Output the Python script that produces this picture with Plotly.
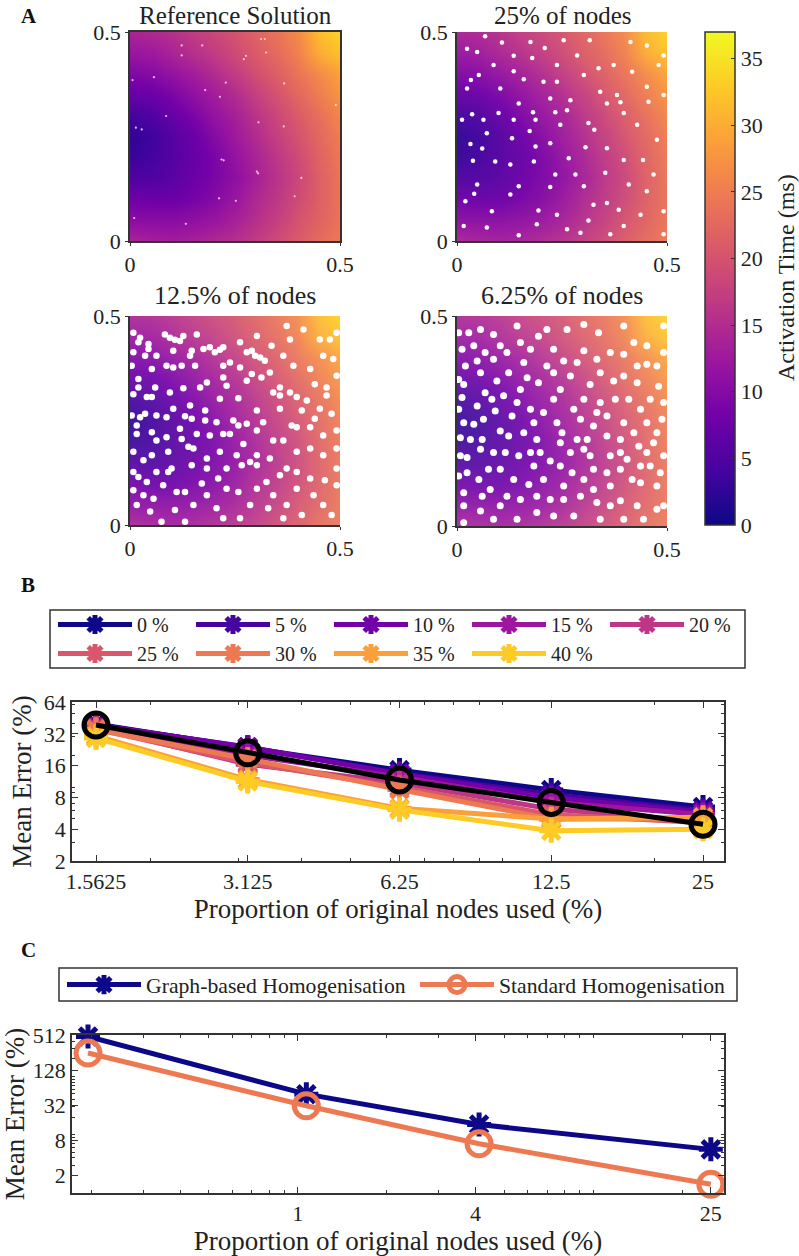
import math
import plotly.graph_objects as go

W, H = 799, 1256
SERIF = "Liberation Serif"
INK = "#222222"
EDGE = "#333333"

# ---- Panel A: activation time (ms) on a coarse grid
grid_x = [0, 0.05, 0.1, 0.15, 0.2, 0.25, 0.3, 0.35, 0.4, 0.45, 0.5]
grid_y = [0, 0.05, 0.1, 0.15, 0.2, 0.25, 0.3, 0.35, 0.4, 0.45, 0.5]
activation = [
    [14, 13.5, 13, 13.5, 14.5, 15.5, 17, 19, 21, 23, 24.5],
    [10.5, 10.5, 10.5, 11, 12, 13.5, 15.5, 17.5, 20, 22, 24],
    [8, 7.5, 7.5, 8.5, 10, 12, 14.5, 16.5, 19, 21.5, 24],
    [5, 5, 6, 7.5, 9, 11, 13.5, 16, 18.5, 21.5, 24],
    [3, 4, 5.5, 7, 9, 11.5, 14, 16.5, 19, 22, 24.5],
    [2.5, 3.5, 5.5, 7.5, 10, 12.5, 15, 17.5, 20, 22.5, 25],
    [4, 5, 7, 9, 11.5, 13.5, 16, 18.5, 21, 23.5, 26],
    [7, 7.5, 9, 11, 13, 15, 17.5, 20, 22.5, 25, 27.5],
    [9.5, 10, 11.5, 13, 15, 17, 19.5, 21.5, 24, 26.5, 29],
    [12, 12.5, 14, 15.5, 17, 19, 21, 23, 25.5, 30, 32],
    [14, 14.5, 15.5, 17, 18.5, 20, 22, 24, 26.5, 31.5, 33.5],
]
panel_titles = ["Reference Solution", "25% of nodes", "12.5% of nodes", "6.25% of nodes"]

# Missing-node specks: approximate positions of visible gaps, estimated by eye from zoomed crops.
# The thousands of individual nodes of the sampled panels cannot be read; these panels are an approximation.
ref_gap_x = [.123,.172,.123,.312,.321,.324,.276,.271,.006,.057,.228,.179,.214,.367,.49,.086,.014,.028,.306,.366,.218,.223,.302,.305,.408,.392,.212,.252,.01,.133]
ref_gap_y = [.468,.468,.444,.483,.483,.451,.443,.435,.385,.392,.379,.361,.345,.377,.325,.299,.271,.267,.284,.274,.195,.193,.166,.162,.151,.107,.102,.096,.055,.041]
p25_gap_x = [.107,.135,.159,.033,.052,.036,.187,.173,.306,.327,.389,.443,.397,.282,.127,.038,.147,.041,.313,.385,.147,.181,.187,.238,.316,.209,.135,.067,.413,.456,.357,.262,.234,.071,.063,.131,.032,.012,.091,.06,.266,.222,.048,.02,.194,.238,.262,.357,.409,.437,.397,.365,.325,.492,.48,.452,.381,.341,.302,.337,.238,.179,.087,.024,.103,.147,.222,.27,.135,.099,.313,.397,.429,.476,.357,.222,.234,.183,.127,.083,.016,.071,.19,.302,.353,.468,.452,.492,.492,.294,.246,.206,.286,.373,.417,.452,.492,.175,.254,.024,.048]
p25_gap_y = [.475,.406,.387,.385,.397,.303,.226,.263,.224,.266,.332,.194,.194,.159,.183,.192,.131,.113,.049,.075,.014,.308,.29,.381,.48,.462,.443,.49,.476,.333,.329,.313,.308,.258,.29,.246,.232,.29,.19,.221,.198,.129,.135,.095,.073,.063,.028,.091,.135,.063,.036,.016,.087,.349,.421,.369,.349,.357,.397,.413,.421,.438,.421,.365,.365,.329,.341,.337,.29,.306,.282,.306,.278,.242,.222,.234,.159,.19,.111,.071,.036,.032,.04,.131,.163,.159,.119,.071,.016,.02,.278,.381,.444,.421,.405,.468,.444,.476,.48,.46,.452]
p12_gap_x = [.107,.02,.044,.214,.31,.373,.484,.127,.083,.159,.02,.06,.127,.04,.087,.036,.016,.063,.119,.131,.179,.258,.246,.238,.302,.357,.313,.421,.385,.44,.341,.27,.183,.032,.063,.091,.04,.079,.111,.107,.266,.373,.464,.409,.329,.48,.258,.171,.21,.151,.206,.008,.056,.016,.075,.143,.175,.238,.278,.183,.23,.143,.214,.103,.052,.365,.429,.468,.492,.413,.302,.262,.19,.151,.302,.357,.325,.429,.46,.397,.286,.183,.222,.492,
             .008,.024,.095,.119,.044,.103,.147,.19,.202,.222,.29,.298,.321,.337,.381,.452,.476,.008,.036,.063,.087,.123,.155,.222,.262,.29,.333,.389,.46,.004,.02,.008,.052,.095,.167,.222,.278,.341,.357,.381,.397,.44,.468,.492,.004,.024,.063,.103,.147,.179,.206,.278,.317,.357,.409,.452,.48,.492,.016,.052,.087,.123,.159,.222,.258,.302,.365,.397,.429,.008,.052,.091,.139,.214,.254,.302,.333,.397,.46,.492,.02,.099,.147,.183,.23,.286,.397,.429,.492,.008,.032,.131,.23,.302,.341,.373,.437,.46,.262,.131,.048,.365]
p12_gap_y = [.443,.437,.421,.419,.401,.476,.397,.452,.456,.456,.349,.329,.327,.306,.258,.266,.218,.202,.23,.26,.274,.303,.25,.218,.274,.329,.353,.298,.238,.254,.202,.194,.159,.155,.127,.127,.103,.095,.079,.036,.143,.135,.107,.024,.04,.024,.079,.099,.111,.048,.04,.127,.063,.048,.008,.405,.421,.389,.413,.341,.333,.286,.302,.377,.373,.405,.373,.31,.46,.468,.452,.437,.214,.183,.167,.119,.103,.183,.214,.087,.048,.071,.016,.135,
             .46,.448,.448,.44,.433,.417,.417,.425,.413,.425,.417,.405,.393,.429,.444,.444,.444,.413,.405,.405,.381,.381,.381,.381,.377,.361,.365,.381,.405,.381,.329,.313,.306,.317,.329,.353,.345,.317,.31,.317,.306,.337,.329,.357,.262,.258,.262,.278,.254,.25,.246,.242,.246,.278,.274,.278,.266,.226,.238,.222,.21,.206,.218,.218,.238,.226,.202,.234,.234,.175,.167,.175,.187,.175,.167,.143,.159,.175,.167,.183,.115,.135,.143,.135,.135,.151,.127,.111,.095,.083,.071,.079,.087,.087,.071,.048,.071,.048,.016,.008,.032,.016]
p6_gap_x = [.016,.032,.012,.04,.056,.067,.123,.087,.028,.067,.143,.23,.302,.302,.254,.194,.317,.357,.409,.46,.452,.488,.373,.286,.222,.159,.091,.103,.024,.075,.147,.119,.056,.016,.171,.222,.274,.317,.357,.417,.46,.433,.389,.333,.389,.476,.19,.278,.444,.175,.151,.246,.278,.206,.111,.02,.004,.325,.476,.421,.365,.214,.119,.087,.175,.246,.365,.405,.294,.079,.016,.492,
            .012,.056,.103,.151,.194,.262,.337,.397,.452,.492,.004,.04,.087,.159,.214,.286,.333,.397,.429,.492,.048,.095,.167,.23,.27,.341,.397,.429,.48,.016,.083,.143,.175,.23,.302,.341,.377,.437,.492,.048,.004,.063,.131,.183,.238,.294,.333,.397,.452,.476,.008,.06,.123,.19,.25,.31,.357,.421,.468,.008,.056,.115,.198,.27,.302,.389,.452,.492,.024,.103,.183,.246,.325,.389,.437,.484,.004,.052,.135,.206,.254,.302,.365,.437,.016,.06,.103,.151,.19,.254,.325,.365,.429,.476,.087,.143,.23,.341,.397]
p6_gap_y = [.246,.206,.306,.242,.365,.317,.365,.456,.46,.413,.476,.421,.48,.417,.393,.341,.337,.262,.302,.302,.385,.254,.345,.206,.155,.222,.274,.226,.127,.135,.167,.071,.036,.008,.099,.063,.127,.167,.127,.111,.143,.19,.206,.056,.06,.095,.032,.024,.016,.421,.325,.325,.278,.27,.31,.381,.349,.238,.381,.437,.413,.468,.413,.175,.175,.198,.167,.159,.071,.087,.079,.048,
            .421,.468,.429,.437,.452,.468,.46,.476,.429,.476,.46,.429,.397,.389,.381,.389,.397,.409,.381,.413,.393,.345,.353,.365,.357,.365,.357,.341,.333,.337,.302,.294,.278,.302,.302,.294,.302,.278,.294,.286,.278,.254,.262,.246,.246,.254,.27,.246,.246,.222,.21,.206,.214,.206,.222,.206,.214,.222,.198,.167,.183,.175,.175,.175,.183,.175,.175,.167,.163,.135,.143,.143,.135,.135,.143,.127,.119,.111,.111,.111,.095,.111,.095,.103,.048,.071,.048,.063,.071,.063,.087,.048,.048,.04,.016,.016,.024,.016,.016]

colorbar_ticks = [0, 5, 10, 15, 20, 25, 30, 35]

# ---- Panel B
b_x = [1.5625, 3.125, 6.25, 12.5, 25]
b_names = ["0 %", "5 %", "10 %", "15 %", "20 %", "25 %", "30 %", "35 %", "40 %"]
b_colors = ["#0d0887", "#46039f", "#7201a8", "#9c179e", "#bd3786", "#d8576b", "#ed7953", "#fb9f3a", "#fdca26"]
b_series = [
    [39.6, 23.5, 14.5, 9.4, 6.5],
    [39.0, 23.8, 13.5, 8.5, 6.0],
    [38.5, 24.0, 13.3, 8.0, 5.8],
    [37.5, 20.0, 12.5, 7.2, 5.5],
    [36.5, 16.5, 11.0, 6.2, 4.7],
    [35.5, 17.0, 10.0, 5.5, 4.6],
    [35.0, 18.5, 9.5, 5.0, 5.0],
    [30.5, 11.8, 6.3, 5.0, 5.2],
    [29.2, 11.3, 6.1, 3.87, 4.0],
]
b_mean = [38.8, 21.2, 11.7, 7.17, 4.45]
b_xticks = [1.5625, 3.125, 6.25, 12.5, 25]
b_xticklabels = ["1.5625", "3.125", "6.25", "12.5", "25"]
b_xminor = [2, 3, 4, 5, 6, 7, 8, 9, 10, 20]
b_yticks = [2, 4, 8, 16, 32, 64]
b_yminor = [3, 5, 6, 7, 9, 10, 20, 30, 40, 50, 60]

# ---- Panel C
c_x = [0.1953, 1.07, 4.11, 25]
c_graph = [483, 49.5, 14.9, 5.6]
c_standard = [252, 31.3, 7.0, 1.41]
c_xticks = [1, 4, 25]
c_xminor = [0.2, 0.3, 0.4, 0.5, 0.6, 0.7, 0.8, 0.9, 2, 3, 5, 6, 7, 8, 9, 10, 20]
c_yticks = [2, 8, 32, 128, 512]
c_yminor = [1, 3, 4, 5, 6, 7, 9, 10, 20, 30, 40, 50, 60, 70, 80, 90, 100, 200, 300, 400, 500]


def px_x(a, b):
    return [a / W, b / W]


def px_y(top, bottom):
    return [1 - bottom / H, 1 - top / H]


fig = go.Figure()
layout = dict(
    width=W, height=H, autosize=False, margin=dict(l=0, r=0, t=0, b=0, autoexpand=False),
    paper_bgcolor="white", plot_bgcolor="white",
    font=dict(family=SERIF, size=22, color=INK),
)

panels = [
    ("x", "y", (130, 340), (32, 241), ref_gap_x, ref_gap_y, 2.2, 1.0, "rgba(255,225,235,0.85)"),
    ("x2", "y2", (457, 667), (32, 241), p25_gap_x, p25_gap_y, 4.5, 0.97, "white"),
    ("x3", "y3", (130, 340), (316, 525), p12_gap_x, p12_gap_y, 6.5, 0.92, "white"),
    ("x4", "y4", (457, 667), (316, 526), p6_gap_x, p6_gap_y, 7, 0.9, "white"),
]
for i, (xa, ya, xpx, ypx, gx, gy, gs, op, gc) in enumerate(panels):
    fig.add_trace(go.Heatmap(x=grid_x, y=grid_y, z=activation, coloraxis="coloraxis",
                             zsmooth="best", opacity=op, xaxis=xa, yaxis=ya, showlegend=False))
    fig.add_trace(go.Scatter(x=gx, y=gy, mode="markers", xaxis=xa, yaxis=ya, showlegend=False,
                             marker=dict(color=gc, size=gs, line=dict(width=0))))
    sfx = "" if i == 0 else str(i + 1)
    ax = dict(showgrid=False, zeroline=False, linecolor=EDGE, linewidth=1.5, ticks="outside",
              ticklen=3, tickcolor=EDGE, tickvals=[0, 0.5], ticktext=["0", "0.5"],
              range=[0, 0.5], mirror=(i == 0), tickfont=dict(size=22, family=SERIF, color=INK))
    layout["xaxis" + sfx] = dict(ax, domain=px_x(*xpx), anchor=ya)
    layout["yaxis" + sfx] = dict(ax, domain=px_y(*ypx), anchor=xa)

layout["coloraxis"] = dict(
    colorscale="Plasma", cmin=0, cmax=37,
    colorbar=dict(x=705 / W, xanchor="left", y=1 - 525 / H, yanchor="bottom",
                  lenmode="pixels", len=493, thicknessmode="pixels", thickness=30,
                  ticks="inside", ticklen=4, tickcolor=EDGE, tickvals=colorbar_ticks,
                  outlinecolor=EDGE, outlinewidth=1.5, xpad=0, ypad=0,
                  tickfont=dict(size=22, family=SERIF, color=INK)),
)

for name, col, vals in zip(b_names, b_colors, b_series):
    fig.add_trace(go.Scatter(
        x=b_x, y=vals, name=name, mode="lines+markers", xaxis="x5", yaxis="y5", legend="legend",
        cliponaxis=False, line=dict(color=col, width=5),
        marker=dict(symbol="asterisk-open", size=20, line=dict(color=col, width=5), color=col)))
fig.add_trace(go.Scatter(
    x=b_x, y=b_mean, mode="lines+markers", xaxis="x5", yaxis="y5", showlegend=False,
    cliponaxis=False, line=dict(color="black", width=5),
    marker=dict(symbol="circle-open", size=24, line=dict(color="black", width=5))))

fig.add_trace(go.Scatter(
    x=c_x, y=c_graph, name="Graph-based Homogenisation", mode="lines+markers",
    xaxis="x6", yaxis="y6", legend="legend2", cliponaxis=False,
    line=dict(color="#0d0887", width=5),
    marker=dict(symbol="asterisk-open", size=20, line=dict(color="#0d0887", width=5))))
fig.add_trace(go.Scatter(
    x=c_x, y=c_standard, name="Standard Homogenisation", mode="lines+markers",
    xaxis="x6", yaxis="y6", legend="legend2", cliponaxis=False,
    line=dict(color="#ed7953", width=5),
    marker=dict(symbol="circle-open", size=24, line=dict(color="#ed7953", width=5))))


def log_axis(ticks, labels, minor, rng, title, standoff):
    return dict(
        type="log", range=rng, showgrid=False, zeroline=False, linecolor=EDGE, linewidth=1.5,
        mirror="allticks", ticks="inside", ticklen=6, tickcolor=EDGE, tickmode="array",
        tickvals=ticks, ticktext=labels,
        minor=dict(tickmode="array", tickvals=minor, ticks="inside", ticklen=3.5, tickcolor=EDGE, showgrid=False),
        tickfont=dict(size=22, family=SERIF, color=INK),
        title=dict(text=title, standoff=standoff, font=dict(size=27, family=SERIF, color=INK)),
    )


XT = "Proportion of original nodes used (%)"
YT = "Mean Error (%)"
layout["xaxis5"] = dict(log_axis(b_xticks, b_xticklabels, b_xminor, [0.1462, 1.4396], XT, 6),
                        domain=px_x(72, 724), anchor="y5")
layout["yaxis5"] = dict(log_axis(b_yticks, [str(v) for v in b_yticks], b_yminor, [math.log10(2), math.log10(64)], YT, 4),
                        domain=px_y(702, 861), anchor="x5")
layout["xaxis6"] = dict(log_axis(c_xticks, [str(v) for v in c_xticks], c_xminor, [math.log10(0.1724), math.log10(27.7)], XT, 6),
                        domain=px_x(72, 724), anchor="y6")
layout["yaxis6"] = dict(log_axis(c_yticks, [str(v) for v in c_yticks], c_yminor, [0, math.log10(512)], YT, 4),
                        domain=px_y(1035, 1193), anchor="x6")

layout["legend"] = dict(
    orientation="h", x=53 / W, xanchor="left", y=1 - 605 / H, yanchor="top",
    bgcolor="rgba(0,0,0,0)", borderwidth=0, itemwidth=74,
    entrywidth=49, entrywidthmode="pixels", font=dict(size=20, family=SERIF, color=INK),
    itemsizing="trace", traceorder="normal", itemclick=False, itemdoubleclick=False,
)
layout["legend2"] = dict(
    orientation="h", x=62 / W, xanchor="left", y=1 - 964 / H, yanchor="top",
    bgcolor="rgba(0,0,0,0)", borderwidth=0, itemwidth=74,
    entrywidth=264, entrywidthmode="pixels", font=dict(size=21.7, family=SERIF, color=INK),
    itemsizing="trace", traceorder="normal", itemclick=False, itemdoubleclick=False,
)
layout["shapes"] = [
    dict(type="rect", xref="paper", yref="paper", x0=50 / W, x1=745 / W, y0=1 - 668 / H, y1=1 - 610 / H,
         line=dict(color=EDGE, width=1.5), layer="below"),
    dict(type="rect", xref="paper", yref="paper", x0=59 / W, x1=737 / W, y0=1 - 1001 / H, y1=1 - 968 / H,
         line=dict(color=EDGE, width=1.5), layer="below"),
]


def note(text, xpx, ypx, size=26, bold=False, angle=0):
    return dict(text=f"<b>{text}</b>" if bold else text, x=xpx / W, y=1 - ypx / H, xref="paper", yref="paper",
                showarrow=False, textangle=angle, xanchor="center", yanchor="middle",
                font=dict(size=size, family=SERIF, color="#111111" if bold else INK))


layout["annotations"] = [
    note(panel_titles[0], 235, 15.5, 25), note(panel_titles[1], 562, 15.5, 25),
    note(panel_titles[2], 235, 295), note(panel_titles[3], 562, 295),
    note("A", 29, 16, 21, True), note("B", 28, 585, 21, True), note("C", 28, 950, 21, True),
    note("Activation Time (ms)", 786, 278, 24, angle=-90),
]
fig.update_layout(**layout)
fig.write_html("out.html", config=dict(displayModeBar=False),
               post_script="document.body.style.margin='0';document.body.style.overflow='hidden';")
